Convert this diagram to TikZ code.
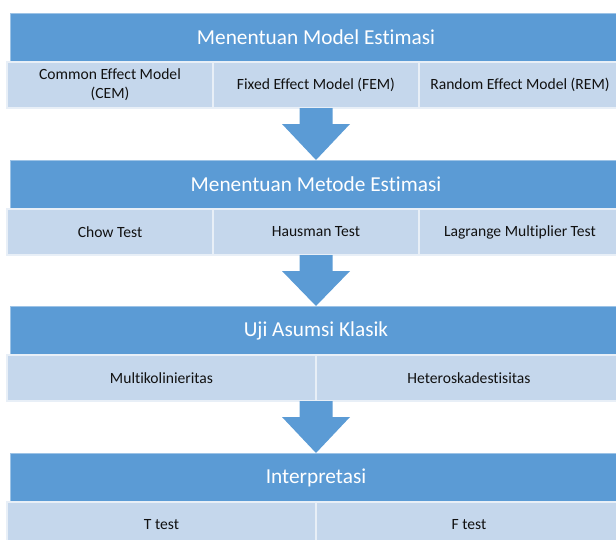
\documentclass[tikz,border=0pt]{standalone}
\usepackage{fontspec}
\setmainfont{Carlito}[Ligatures={NoCommon,NoRare}]
\usetikzlibrary{calc}
\definecolor{hblue}{HTML}{5B9BD5}
\definecolor{lblue}{HTML}{C5D7EC}
\definecolor{txt}{HTML}{111111}
\begin{document}
\begin{tikzpicture}[x=1pt,y=-1pt,
  hdr/.style={rectangle, fill=hblue, draw=white!40!hblue, line width=0.6pt, minimum width=612pt, minimum height=49pt, inner sep=0pt, outer sep=0pt, anchor=north west, text=white, font=\fontsize{21.3}{25}\selectfont},
  cell/.style={rectangle, fill=lblue, draw=white!60!lblue, line width=1.2pt, minimum width=206pt, minimum height=46pt, inner sep=0pt, outer sep=0pt, anchor=north west, font=\fontsize{15.6}{19}\selectfont, align=center, text=txt},
  lastcell/.style={cell, minimum width=202pt},
  wcell/.style={cell, minimum width=309pt},
  blockarrow/.style={fill=hblue}]
\useasboundingbox (0,0) rectangle (616,539);
\clip (0,0) rectangle (616,539);
% block 1
\node[hdr] (h1) at (10,13) {Menentuan Model Estimasi};
\node[cell] (c11) at (7,62) {Common Effect Model\\(CEM)};
\node[cell] (c12) at (213,62) {Fixed Effect Model (FEM)};
\node[lastcell] (c13) at (419,62) {Random Effect Model (REM)};
% block 2
\node[hdr] (h2) at (10,160) {Menentuan Metode Estimasi};
\node[cell] (c21) at (7,209) {Chow Test};
\node[cell] (c22) at (213,209) {Hausman Test};
\node[lastcell] (c23) at (419,209) {Lagrange Multiplier Test};
% block 3
\node[hdr] (h3) at (10,306) {Uji Asumsi Klasik};
\node[wcell] (c31) at (7,355) {Multikolinieritas};
\node[wcell, minimum width=306pt] (c32) at (316,355) {Heteroskadestisitas};
% block 4
\node[hdr] (h4) at (10,453) {Interpretasi};
\node[wcell] (c41) at (7,502) {T test};
\node[wcell, minimum width=306pt] (c42) at (316,502) {F test};
% block arrows
\foreach \s/\t in {c12.south/h2.north, c22.south/h3.north, c31.south east/h4.north}{
  \fill[blockarrow] ($(\s)+(-16.5,0)$) -- ($(\s)+(16.5,0)$) -- ($(\s)+(16.5,16)$)
    -- ($(\s)+(34,16)$) -- (\t) -- ($(\s)+(-34,16)$) -- ($(\s)+(-16.5,16)$) -- cycle;
}
\end{tikzpicture}
\end{document}
